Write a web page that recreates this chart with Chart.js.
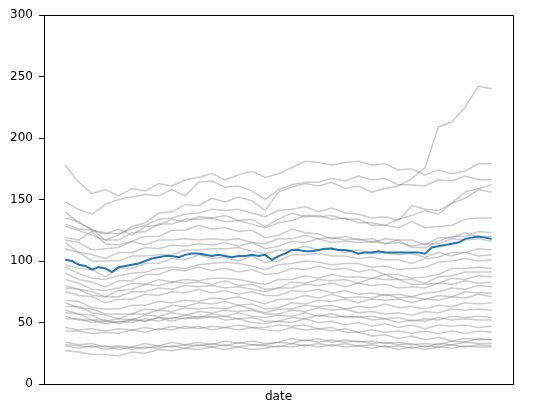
<!DOCTYPE html>
<html><head><meta charset="utf-8">
<script src="https://cdn.jsdelivr.net/npm/chart.js@4.4.0/dist/chart.umd.min.js"></script>
<style>html,body{margin:0;padding:0;background:#fff;}</style>
</head><body>
<canvas id="c" width="552" height="414"></canvas>
<script>
// x positions (trading-day index); gray series sampled every 2nd day, highlighted series daily
const grayDays = Array.from({length: 33}, (_, i) => i * 2);
const blueDays = Array.from({length: 65}, (_, i) => i);

const highlight = [101,100,97,96,93,95,94,91,95,96,97,98,100,102,103,104,104,103,105,106,106,105,104,105,104,103,104,104,105,104,105,101,104,106,109,109,108,108,109,110,110,109,109,108,106,107,107,108,107,107,107,107,107,107,106,111,112,113,114,115,118,119,120,119,118];

const s01 = [178,164,155,158,153,159,157,163,161,166,168,171,166,170,173,168,171,176,181,180,178,180,181,178,179,174,175,170,174,171,173,179,179];
const s02 = [148,142,138,146,150,152,154,153,158,153,164,165,160,161,157,150,158,162,164,164,167,165,169,166,167,162,162,161,166,165,169,166,166];
const s03 = [140,131,126,117,121,128,131,139,140,146,145,151,148,152,149,141,156,160,163,161,164,159,161,156,159,161,167,176,209,213,225,242,240];
const s04 = [135,132,125,123,122,126,129,134,135,138,139,142,141,142,139,136,141,142,144,140,143,139,138,135,136,133,145,142,141,147,156,159,162];
const s05 = [130,126,125,122,126,121,128,129,134,132,136,135,137,133,134,128,134,139,136,137,134,135,131,131,129,134,137,141,138,147,151,158,156];
const s06 = [128,125,121,117,117,123,124,130,130,134,134,135,132,133,130,127,131,133,137,136,137,134,134,129,129,127,132,127,128,129,134,135,135];
const s07 = [119,117,124,114,113,116,120,120,125,125,129,126,127,124,125,119,121,126,123,122,118,120,117,118,114,117,111,111,116,120,120,124,123];
const s08 = [117,115,109,110,111,116,113,117,117,118,117,118,117,118,115,114,118,118,121,118,119,117,118,115,118,117,117,113,119,119,123,120,120];
const s09 = [115,107,105,102,107,107,111,110,113,112,114,113,115,112,115,110,112,116,115,118,115,116,115,116,114,115,112,114,114,118,117,118,116];
const s10 = [110,107,100,100,100,104,104,105,105,109,109,110,110,111,108,106,109,109,112,109,111,107,109,106,107,105,106,103,107,104,107,104,105];
const s11 = [97,94,93,87,94,94,98,98,102,101,105,102,103,100,104,99,100,105,105,106,104,104,102,103,101,101,98,102,103,107,107,110,109];
const s12 = [95,90,86,85,88,90,91,94,95,94,97,98,99,98,96,93,97,98,100,99,97,98,98,95,96,93,94,95,99,100,102,100,101];
const s13 = [90,85,83,79,84,84,89,89,93,92,95,92,94,91,93,89,90,94,93,96,93,94,91,93,89,89,86,87,89,94,94,95,94];
const s14 = [85,82,77,76,78,82,81,85,83,85,84,86,86,85,83,81,85,85,88,86,89,87,87,86,89,85,85,82,87,88,91,91,91];
const s15 = [80,77,75,71,76,77,81,80,83,82,83,81,84,80,81,77,78,83,82,85,84,85,82,86,85,85,81,81,82,86,85,88,87];
const s16 = [78,77,72,71,71,75,75,78,77,80,79,80,78,79,77,75,78,78,81,80,82,79,82,80,81,78,79,78,82,81,84,82,83];
const s17 = [75,72,71,66,69,69,73,72,75,74,77,74,76,73,75,72,72,76,75,77,74,76,73,74,72,73,71,74,75,78,77,80,79];
const s18 = [68,67,62,61,61,64,64,67,66,68,67,70,69,71,68,65,69,69,72,70,73,70,71,70,73,70,71,69,72,71,75,74,74];
const s19 = [66,62,61,57,57,57,61,60,64,63,66,65,67,64,65,61,62,66,65,68,67,69,66,69,68,69,66,69,68,71,70,73,71];
const s20 = [63,63,58,56,53,57,57,60,59,62,61,62,61,64,61,58,61,61,64,63,64,61,63,62,65,62,63,61,64,63,66,65,66];
const s21 = [60,57,56,51,53,52,56,55,58,56,59,58,60,59,60,57,57,60,59,62,60,61,58,59,57,58,56,59,58,61,60,61,60];
const s22 = [58,57,52,52,49,52,51,54,53,56,54,57,55,58,55,54,56,55,58,55,57,54,55,52,53,50,52,51,54,52,53,52,52];
const s23 = [55,52,52,49,51,50,53,51,54,53,55,54,55,53,54,51,51,54,53,56,54,55,54,55,53,54,51,53,52,55,54,55,54];
const s24 = [53,53,50,51,50,53,51,54,51,54,53,55,52,53,50,49,51,50,53,50,51,48,50,47,49,46,48,45,48,47,48,46,47];
const s25 = [46,44,45,43,45,44,46,44,47,45,47,44,46,44,46,44,43,46,44,45,43,45,42,44,42,43,41,43,41,43,41,43,42];
const s26 = [43,43,41,42,41,44,42,45,44,47,45,47,46,48,46,46,48,47,48,45,46,42,42,39,40,37,39,36,38,35,37,36,36];
const s27 = [34,32,33,30,31,30,33,31,34,32,34,32,35,33,35,33,34,37,35,37,34,36,34,35,33,34,32,33,32,35,34,37,36];
const s28 = [32,31,30,31,28,30,29,31,30,32,31,33,31,34,32,32,34,33,36,34,36,34,35,33,34,32,33,30,33,32,34,33,33];
const s29 = [31,29,31,28,30,28,30,29,31,29,32,30,32,30,32,31,30,33,31,33,31,33,31,32,30,31,29,31,30,32,30,32,31];
const s30 = [27,26,24,24,23,26,25,28,27,29,28,30,28,30,28,29,31,30,32,30,32,30,31,29,31,28,30,28,30,29,31,30,30];

const graySeries = [s01,s02,s03,s04,s05,s06,s07,s08,s09,s10,s11,s12,s13,s14,s15,s16,s17,s18,s19,s20,s21,s22,s23,s24,s25,s26,s27,s28,s29,s30];
const yTicks = [0, 50, 100, 150, 200, 250, 300];
const xLabel = 'date';

const FONT = 'DejaVu Sans';
const datasets = [{
  data: blueDays.map((d, i) => ({x: d, y: highlight[i]})),
  borderColor: '#1f77b4', borderWidth: 2, pointRadius: 0, tension: 0, fill: false
}].concat(graySeries.map(s => ({
  data: grayDays.map((d, i) => ({x: d, y: s[i]})),
  borderColor: 'rgba(128,128,128,0.4)', borderWidth: 1.5, pointRadius: 0, tension: 0, fill: false
})));

const frame = {
  id: 'frame',
  afterDraw(chart) {
    const {ctx, chartArea: a} = chart;
    ctx.save();
    ctx.strokeStyle = '#000';
    ctx.lineWidth = 1;
    ctx.beginPath();
    ctx.moveTo(Math.round(a.left) + 0.5, Math.round(a.top) + 0.5);
    ctx.lineTo(Math.round(a.right) + 0.5, Math.round(a.top) + 0.5);
    ctx.lineTo(Math.round(a.right) + 0.5, Math.round(a.bottom) + 0.5);
    ctx.stroke();
    ctx.restore();
  }
};

new Chart(document.getElementById('c'), {
  type: 'line',
  data: {datasets},
  options: {
    responsive: false, animation: false, devicePixelRatio: 1,
    layout: {padding: {left: 0, right: 39, top: 15, bottom: 0}},
    plugins: {legend: {display: false}, tooltip: {enabled: false}},
    scales: {
      x: {
        type: 'linear', min: -3.2, max: 67.2,
        ticks: {display: false},
        grid: {display: false},
        border: {display: true, color: '#000', width: 1},
        title: {display: true, text: xLabel, color: '#000', font: {family: FONT, size: 12}, padding: {top: 0, bottom: 10}},
        afterFit: s => { s.height = 30; }
      },
      y: {
        min: 0, max: 300,
        afterBuildTicks: s => { s.ticks = yTicks.map(v => ({value: v})); },
        ticks: {color: '#000', font: {family: FONT, size: 12}, padding: 6},
        grid: {drawOnChartArea: false, drawTicks: true, tickLength: 5, color: '#000'},
        border: {display: true, color: '#000', width: 1},
        afterFit: s => { s.width = 44; }
      }
    }
  },
  plugins: [frame]
});
</script>
</body></html>
